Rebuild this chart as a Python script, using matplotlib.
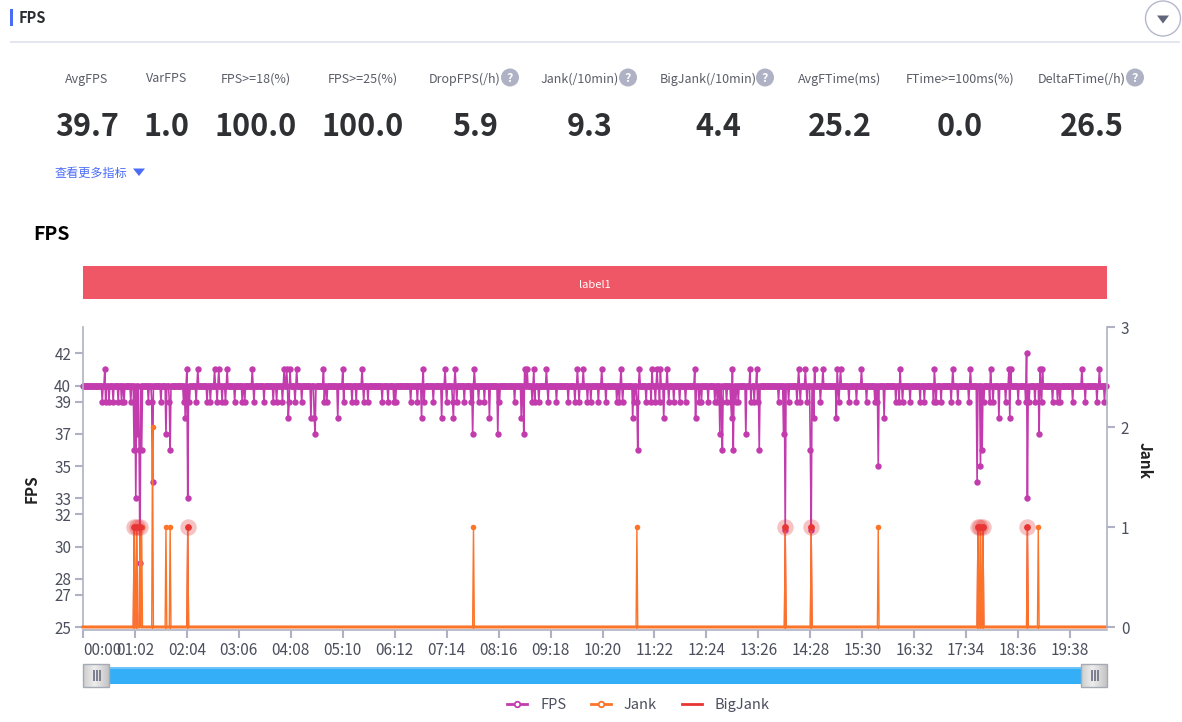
import numpy as np
import matplotlib
matplotlib.use('Agg')
import matplotlib.pyplot as plt
from matplotlib.lines import Line2D
from matplotlib.patches import Rectangle, Circle, Polygon

plt.rcParams['font.family'] = ['Noto Sans CJK SC', 'DejaVu Sans']

# ---- headline metrics ----
metric_names = ['AvgFPS', 'VarFPS', 'FPS>=18(%)', 'FPS>=25(%)', 'DropFPS(/h)', 'Jank(/10min)',
                'BigJank(/10min)', 'AvgFTime(ms)', 'FTime>=100ms(%)', 'DeltaFTime(/h)']
metric_values = ['39.7', '1.0', '100.0', '100.0', '5.9', '9.3', '4.4', '25.2', '0.0', '26.5']

# ---- FPS series: one sample per second, 40 unless listed below ----
n_seconds = 1222
fps_base = 40
fps_42 = [1126]
fps_41 = [26,124,137,157,162,172,202,240,243,247,255,287,304,310,333,406,432,444,467,527,530,538,553,590,597,619,
          642,664,679,685,689,697,730,775,796,804,854,862,873,883,900,904,929,975,1016,1038,1059,1083,1105,1107,
          1142,1145,1192,1213]
fps_39 = [23,27,31,36,42,46,49,57,67,78,82,93,99,103,120,127,135,148,152,160,166,170,181,190,193,204,216,227,231,
          238,246,253,261,288,291,311,321,326,335,340,357,364,371,373,391,399,407,418,434,441,446,455,463,472,479,
          497,515,536,539,544,555,565,579,587,592,602,606,615,624,637,640,644,658,661,672,678,683,688,693,699,705,
          712,719,735,738,746,754,757,762,768,773,779,782,797,801,805,830,842,852,856,864,872,880,902,914,923,935,
          945,947,970,974,978,987,999,1004,1015,1018,1024,1036,1044,1057,1067,1075,1082,1086,1101,1116,1125,1129,
          1136,1144,1157,1163,1166,1181,1196,1210,1219]
fps_38 = [122,245,272,276,304,404,428,442,485,523,656,693,731,774,872,899,956,1093,1106]
fps_37 = [65,99,277,465,495,526,760,791,836,1141]
fps_36 = [61,67,70,104,662,763,776,807,868,1073]
fps_35 = [949,1071]
fps_34 = [83,1067]
fps_33 = [63,125,1127]
fps_31 = [838,869]
fps_29 = [68]

# ---- Jank / BigJank: zero unless listed ----
jank_times = [61,64,68,70,83,99,104,125,466,661,838,869,949,1068,1071,1074,1127,1140]
jank_vals = [1,1,1,1,2,1,1,1,1,1,1,1,1,1,1,1,1,1]
bigjank_times = [61,64,68,125,838,869,1068,1071,1074,1127]

left_ticks = [25,27,28,30,32,33,35,37,39,40,42]
right_ticks = [0,1,2,3]
tick_step = 62

t = np.arange(n_seconds)
fps = np.full(n_seconds, fps_base, dtype=float)
for level, times in [(42,fps_42),(41,fps_41),(39,fps_39),(38,fps_38),(37,fps_37),(36,fps_36),
                     (35,fps_35),(34,fps_34),(33,fps_33),(31,fps_31),(29,fps_29)]:
    fps[times] = level
jank = np.zeros(n_seconds)
jank[jank_times] = jank_vals
bigjank = np.zeros(n_seconds)
bigjank[bigjank_times] = 1

W, H = 1182, 722
FPS_C, JANK_C, BIG_C = '#c33cae', '#fc7428', '#e73535'
AXIS_C, TXT_C = '#aeb2c4', '#4c505e'

fig = plt.figure(figsize=(W/100, H/100), dpi=100, facecolor='white')

# page furniture drawn in pixel coordinates
bg = fig.add_axes([0, 0, 1, 1], zorder=0)
bg.set_xlim(0, W); bg.set_ylim(H, 0); bg.axis('off')
bg.add_patch(Rectangle((10, 9), 3, 17, color='#4a6cf7', lw=0))
bg.text(19, 18, 'FPS', fontsize=10.5, fontweight='bold', color='#2b2d33', va='center')
bg.add_patch(Rectangle((10, 41), 1170, 2, color='#e4e6ef', lw=0))
bg.add_patch(Circle((1163, 18.5), 17.5, fc='white', ec='#b4b8ca', lw=1))
bg.add_patch(Polygon([[1157, 15.5], [1169, 15.5], [1163, 23.5]], color='#62667a', lw=0))

label_x = [87, 167, 255.5, 363, 464.5, 580, 708, 840, 960, 1082]
value_x = [87, 167, 256, 363, 475, 590, 718, 840, 960, 1092]
help_x = {4: 510, 5: 628, 6: 765, 9: 1135}
for i, (nm, val) in enumerate(zip(metric_names, metric_values)):
    bg.text(label_x[i], 79, nm, fontsize=9, color='#5a5d68', ha='center', va='center')
    bg.text(value_x[i], 127, val, fontsize=22, fontweight='bold', color='#2f3033', ha='center', va='center')
    if i in help_x:
        bg.add_patch(Circle((help_x[i], 77.5), 9, color='#aeb2c4', lw=0))
        bg.text(help_x[i], 78, '?', fontsize=9, fontweight='bold', color='white', ha='center', va='center')
bg.text(55, 173, '查看更多指标', fontsize=8.7, color='#4a6cf7', va='center')
bg.add_patch(Polygon([[133, 168.5], [145, 168.5], [139, 176]], color='#4a6cf7', lw=0))
bg.text(33, 235, 'FPS', fontsize=14, fontweight='bold', color='black', va='center')

# label band
bg.add_patch(Rectangle((83, 266), 1024, 33, color='#ef5766', lw=0))
bg.text(595, 284.5, 'label1', fontsize=8, color='white', ha='center', va='center')

# slider
bg.add_patch(Rectangle((83, 667), 1024, 17, color='#33aef7', lw=0))
bg.add_patch(Rectangle((83, 667), 1024, 2, color='#6cc4f8', lw=0))
for hx in (83, 1081):
    for k in range(26):
        shade = 0.93 - 0.16 * abs(k - 11) / 14
        bg.add_patch(Rectangle((hx + k, 664), 1.05, 23, color=(shade, shade, shade), lw=0))
    bg.add_patch(Rectangle((hx, 664), 26, 23, fc='none', ec='#a6aab6', lw=1))
    for dx in (10, 13, 16):
        bg.add_patch(Rectangle((hx + dx, 670), 1.6, 11, color='#7d8192', lw=0))

# main chart
ax = fig.add_axes([83/W, 1 - 627/H, 1024/W, 300/H], zorder=2)
ax.patch.set_alpha(0)
ax.set_xlim(0, n_seconds)
ax.set_ylim(25, 25 + 300/16.1)
ax.plot(t, fps, color=FPS_C, lw=1.2, marker='o', ms=4.6, mew=0, clip_on=False)
ax.set_yticks(left_ticks)
ax.set_xticks(np.arange(0, n_seconds, tick_step))
xt = [f'{int(v)//60:02d}:{int(v)%60:02d}' for v in np.arange(0, n_seconds, tick_step)]
ax.set_xticklabels(xt)
ax.spines['top'].set_visible(False)
ax.spines['right'].set_visible(False)
for s in ('left', 'bottom'):
    ax.spines[s].set_color(AXIS_C); ax.spines[s].set_linewidth(1.2)
ax.spines['bottom'].set_position(('outward', 2.2))
ax.tick_params(axis='y', length=5.5, width=1.5, color=AXIS_C, labelcolor=TXT_C, labelsize=11, pad=3)
ax.tick_params(axis='x', length=5.5, width=1.5, color=AXIS_C, labelcolor=TXT_C, labelsize=11, pad=3)
ax.set_ylabel('FPS', fontsize=11, fontweight='bold', color='#222222')
ax.yaxis.set_label_coords((40-83)/1024, (627-489)/300)

ax2 = ax.twinx()
ax2.set_zorder(3); ax2.patch.set_alpha(0)
ax2.set_ylim(0, 3)
ax2.plot(t, bigjank, color=BIG_C, lw=1.0, clip_on=False)
ax2.plot(t, jank, color=JANK_C, lw=1.0, marker='o', ms=4, mew=0, markevery=[int(v) for v in jank_times],
         clip_on=False)
ax2.plot(t, np.where(jank == 0, jank, np.nan), color=JANK_C, lw=2.2, clip_on=False)
ax2.scatter(bigjank_times, bigjank[bigjank_times], s=140, color=BIG_C, alpha=0.3, lw=0, zorder=5)
ax2.scatter(bigjank_times, bigjank[bigjank_times], s=24, color=BIG_C, lw=0, zorder=6)
ax2.set_yticks(right_ticks)
for s in ('left', 'top', 'bottom'):
    ax2.spines[s].set_visible(False)
ax2.spines['right'].set_color(AXIS_C); ax2.spines['right'].set_linewidth(1.2)
ax2.tick_params(axis='y', length=5.5, width=1.5, color=AXIS_C, labelcolor=TXT_C, labelsize=11, pad=4.5)
ax2.set_ylabel('Jank', fontsize=11, fontweight='bold', color='#222222', rotation=270)
ax2.yaxis.set_label_coords((1153-83)/1024, (627-461)/300)

handles = [
    Line2D([], [], color=FPS_C, lw=2, marker='o', ms=4, mfc='white', mec=FPS_C, mew=1.3),
    Line2D([], [], color=JANK_C, lw=2, marker='o', ms=4, mfc='white', mec=JANK_C, mew=1.3),
    Line2D([], [], color=BIG_C, lw=2),
]
leg = fig.legend(handles, ['FPS', 'Jank', 'BigJank'], ncol=3, frameon=False, fontsize=10.5,
                 loc='center', bbox_to_anchor=(638.5/W, 1 - 705/H), handlelength=1.35, handletextpad=0.9,
                 columnspacing=1.7, labelcolor=TXT_C, borderpad=0)

# first time label starts at the axis origin, as in the reference
fig.canvas.draw()
first = ax.xaxis.get_major_ticks()[0].label1
first.set_horizontalalignment('left')

fig.savefig('out.png', dpi=100, facecolor='white')
